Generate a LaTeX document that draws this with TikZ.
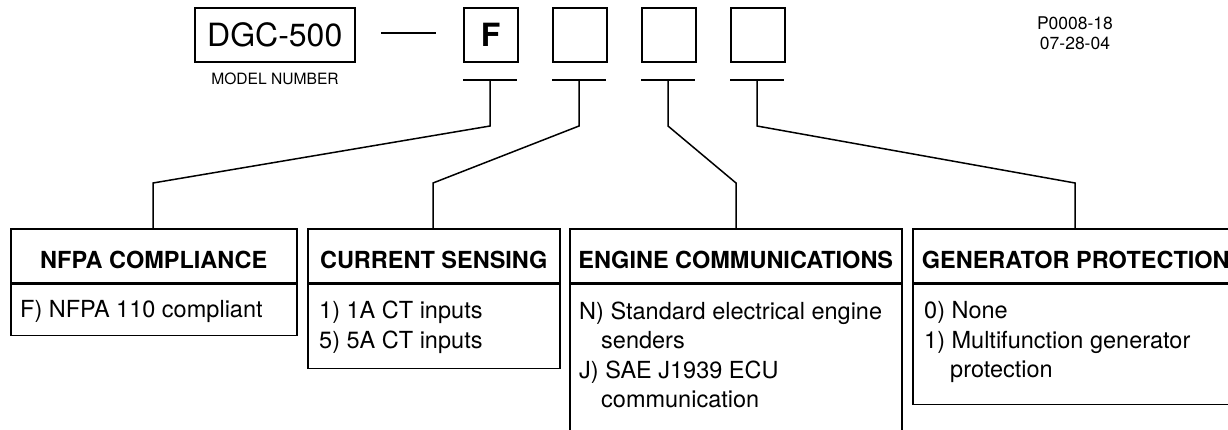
\documentclass[tikz,border=0pt]{standalone}
\usepackage{fontspec}
\setmainfont{TeX Gyre Heros}
\begin{document}
\begin{tikzpicture}[x=1pt,y=-1pt,
  ln/.style={line width=1.5pt, line join=miter},
  codebox/.style={draw, line width=1.5pt, minimum width=54pt, minimum height=54pt, inner sep=0pt, anchor=north west, font=\bfseries\fontsize{32}{32}\selectfont},
  hdr/.style={draw, line width=1.5pt, minimum height=54pt, inner sep=0pt, anchor=north west, text height=26pt, text depth=0pt, font=\bfseries\fontsize{23.5}{23.5}\selectfont},
  bodybox/.style={draw, line width=1.5pt, inner sep=0pt, anchor=north west},
  bodytxt/.style={anchor=base west, inner sep=0pt, font=\fontsize{23.5}{23.5}\selectfont},
  small/.style={anchor=base, inner sep=0pt, font=\fontsize{15.6}{15.6}\selectfont},
  ref/.style={anchor=base, inner sep=0pt, font=\fontsize{17.5}{17.5}\selectfont}
]
\useasboundingbox (0,0) rectangle (1228,429);
\clip (0,0) rectangle (1228,429);
\fill[white] (0,0) rectangle (1228,429);

% model number
\node[draw, line width=1.5pt, minimum width=160pt, minimum height=54pt, inner sep=0pt, anchor=north west,
      text height=23pt, text depth=0pt, font=\fontsize{32}{32}\selectfont] (model) at (194,7) {DGC-500};
\node[small] (mlabel) at (275,84) {MODEL NUMBER};
\coordinate (dashL) at (381,33);
\coordinate (dashR) at (436,33);
\draw[ln] (dashL) -- (dashR);

% option boxes
\node[codebox, text height=23pt, text depth=0pt] (c1) at (463,7) {F};
\node[codebox] (c2) at (552,7) {};
\node[codebox] (c3) at (641,7) {};
\node[codebox] (c4) at (730,7) {};

% T bars
\foreach \i/\x in {1/463,2/552,3/641,4/730}{
  \coordinate (tl\i) at (\x,80);
  \coordinate (tr\i) at (\x+54,80);
  \draw[ln] (tl\i) -- (tr\i);
}

% reference
\node[ref] (pnum) at (1075,29) {P0008-18};
\node[ref] (pdate) at (1075,49) {07-28-04};

% category headers
\node[hdr, minimum width=286pt] (h1) at (10,228) {NFPA COMPLIANCE};
\node[hdr, minimum width=252pt] (h2) at (307,228) {CURRENT SENSING};
\node[hdr, minimum width=332pt] (h3) at (569,228) {ENGINE COMMUNICATIONS};
\node[hdr, minimum width=326pt] (h4) at (912,228) {GENERATOR PROTECTION};

% bodies
\node[bodybox, minimum width=286pt, minimum height=51pt] (b1) at (h1.south west) {};
\node[bodybox, minimum width=252pt, minimum height=84pt] (b2) at (h2.south west) {};
\node[bodybox, minimum width=332pt, minimum height=180pt] (b3) at (h3.south west) {};
\node[bodybox, minimum width=326pt, minimum height=120pt] (b4) at (h4.south west) {};

\node[bodytxt] (t11) at (20,317) {F) NFPA 110 compliant};
\node[bodytxt] (t21) at (319,318) {1) 1A CT inputs};
\node[bodytxt] (t22) at (319,348) {5) 5A CT inputs};
\node[bodytxt] (t31) at (579,319) {N) Standard electrical engine};
\node[bodytxt] (t32) at (601,348) {senders};
\node[bodytxt] (t33) at (579,378) {J) SAE J1939 ECU};
\node[bodytxt] (t34) at (601,407) {communication};
\node[bodytxt] (t41) at (924,318) {0) None};
\node[bodytxt] (t42) at (924,348) {1) Multifunction generator};
\node[bodytxt] (t43) at (950,377) {protection};

% connectors
\coordinate (s1) at (490,80);  \coordinate (k1) at (490,126); \coordinate (m1) at (153,183);
\coordinate (s2) at (579,80);  \coordinate (k2) at (579,126); \coordinate (m2) at (433,183);
\coordinate (s3) at (668,80);  \coordinate (k3) at (668,126); \coordinate (m3) at (736,183);
\coordinate (s4) at (757,80);  \coordinate (k4) at (757,126); \coordinate (m4) at (1075,183);
\draw[ln] (s1) -- (k1) -- (m1) -- (m1 |- h1.north);
\draw[ln] (s2) -- (k2) -- (m2) -- (m2 |- h2.north);
\draw[ln] (s3) -- (k3) -- (m3) -- (m3 |- h3.north);
\draw[ln] (s4) -- (k4) -- (m4) -- (m4 |- h4.north);
\end{tikzpicture}
\end{document}
